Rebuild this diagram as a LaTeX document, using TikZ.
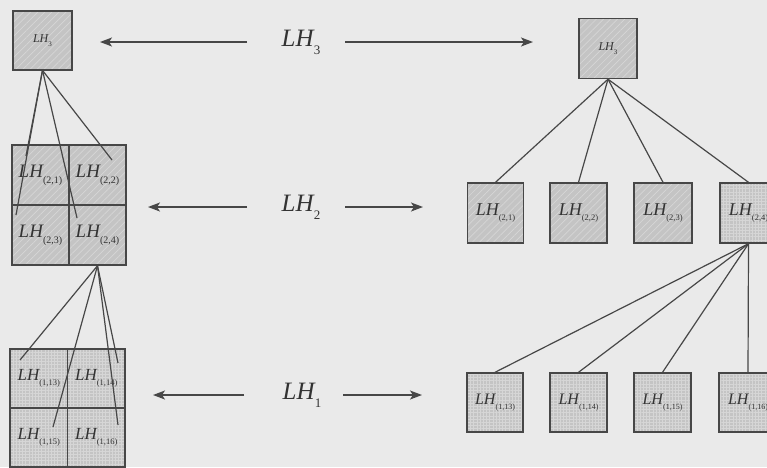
\documentclass[tikz,border=0pt]{standalone}
\usepackage{fontspec}
\setmainfont{Liberation Serif}
\usetikzlibrary{patterns.meta,arrows.meta}
\definecolor{bg}{HTML}{EAEAEA}
\definecolor{boxfill}{HTML}{C4C4C4}
\definecolor{hatch}{HTML}{D6D6D6}
\definecolor{ink}{HTML}{474747}
\definecolor{txt}{HTML}{333333}
\newcommand{\lhlab}[3]{\fontsize{#2}{#2}\selectfont\textit{LH}\kern-0.04em\raisebox{-0.32em}{\fontsize{#3}{#3}\selectfont #1}}
\tikzset{
  cellbase/.style={draw=ink, line width=1.4pt, inner sep=0pt, text=txt, preaction={fill=boxfill}},
  diagbox/.style={cellbase, pattern={Lines[angle=45,distance=5pt,line width=0.7pt]}, pattern color=hatch},
  gridbox/.style={cellbase, pattern={Hatch[angle=0,distance=3.2pt,line width=0.6pt]}, pattern color=hatch},
  conn/.style={draw=ink, line width=1.2pt},
  levarrow/.style={draw=ink, line width=1.5pt, -{Stealth[length=12pt,width=9pt,inset=3pt]}},
  levlabel/.style={text=txt, inner sep=0pt}
}
\begin{document}
\begin{tikzpicture}[x=1pt,y=-1pt]
\useasboundingbox (0,0) rectangle (767,467);
\clip (0,0) rectangle (767,467);
\fill[bg] (0,0) rectangle (767,467);

% ---------- left column ----------
\node[diagbox, minimum width=59pt, minimum height=59pt] (L3) at (42.5,40.5) {\lhlab{3}{12pt}{7pt}};

\node[diagbox, minimum width=57pt, minimum height=60pt] (A21) at (40.5,175) {\lhlab{(2,1)}{19pt}{10pt}};
\node[diagbox, minimum width=57pt, minimum height=60pt] (A22) at (97.5,175) {\lhlab{(2,2)}{19pt}{10pt}};
\node[diagbox, minimum width=57pt, minimum height=60pt] (A23) at (40.5,235) {\lhlab{(2,3)}{19pt}{10pt}};
\node[diagbox, minimum width=57pt, minimum height=60pt] (A24) at (97.5,235) {\lhlab{(2,4)}{19pt}{10pt}};

\node[gridbox, minimum width=57.5pt, minimum height=59pt] (B13) at (38.75,378.5) {\lhlab{(1,13)}{17pt}{8.5pt}};
\node[gridbox, minimum width=57.5pt, minimum height=59pt] (B14) at (96.25,378.5) {\lhlab{(1,14)}{17pt}{8.5pt}};
\node[gridbox, minimum width=57.5pt, minimum height=59pt] (B15) at (38.75,437.5) {\lhlab{(1,15)}{17pt}{8.5pt}};
\node[gridbox, minimum width=57.5pt, minimum height=59pt] (B16) at (96.25,437.5) {\lhlab{(1,16)}{17pt}{8.5pt}};

\coordinate (e1) at (16,215);
\coordinate (e2) at (26,156);
\coordinate (e3) at (77,218);
\coordinate (e4) at (112,160);
\foreach \e in {e1,e2,e3,e4} \draw[conn] (L3.south) -- (\e);

\coordinate (f1) at (20,360);
\coordinate (f2) at (53,427);
\coordinate (f3) at (118,363);
\coordinate (f4) at (118,425);
\foreach \e in {f1,f2,f3,f4} \draw[conn] (A24.south) -- (\e);

% ---------- middle level labels ----------
\node[levlabel] (t3) at (301,42) {\lhlab{3}{25pt}{13pt}};
\node[levlabel] (t2) at (301,207) {\lhlab{2}{25pt}{13pt}};
\node[levlabel] (t1) at (302,395) {\lhlab{1}{25pt}{13pt}};

\coordinate (t3a) at (247,42);  \coordinate (t3b) at (345,42);
\coordinate (t3l) at (100,42);  \coordinate (t3r) at (533,42);
\coordinate (t2a) at (247,207); \coordinate (t2b) at (345,207);
\coordinate (t2l) at (148,207); \coordinate (t2r) at (423,207);
\coordinate (t1a) at (244,395); \coordinate (t1b) at (343,395);
\coordinate (t1l) at (153,395); \coordinate (t1r) at (422,395);
\draw[levarrow] (t3a) -- (t3l);
\draw[levarrow] (t3b) -- (t3r);
\draw[levarrow] (t2a) -- (t2l);
\draw[levarrow] (t2b) -- (t2r);
\draw[levarrow] (t1a) -- (t1l);
\draw[levarrow] (t1b) -- (t1r);

% ---------- right tree ----------
\node[diagbox, minimum width=58pt, minimum height=60pt] (R3) at (608,48.5) {\lhlab{3}{12pt}{7pt}};

\node[diagbox, minimum width=56pt, minimum height=60pt] (R21) at (495.5,213) {\lhlab{(2,1)}{18pt}{8.5pt}};
\node[diagbox, minimum width=57pt, minimum height=60pt] (R22) at (578.5,213) {\lhlab{(2,2)}{18pt}{8.5pt}};
\node[diagbox, minimum width=58pt, minimum height=60pt] (R23) at (663,213) {\lhlab{(2,3)}{18pt}{8.5pt}};
\node[gridbox, minimum width=57pt, minimum height=60pt] (R24) at (748.5,213) {\lhlab{(2,4)}{18pt}{8.5pt}};

\node[gridbox, minimum width=56pt, minimum height=59pt] (R13) at (495,402.5) {\lhlab{(1,13)}{16pt}{8pt}};
\node[gridbox, minimum width=57pt, minimum height=59pt] (R14) at (578.5,402.5) {\lhlab{(1,14)}{16pt}{8pt}};
\node[gridbox, minimum width=57pt, minimum height=59pt] (R15) at (662.5,402.5) {\lhlab{(1,15)}{16pt}{8pt}};
\node[gridbox, minimum width=58pt, minimum height=59pt] (R16) at (748,402.5) {\lhlab{(1,16)}{16pt}{8pt}};

\foreach \n in {R21,R22,R23,R24} \draw[conn] (R3.south) -- (\n.north);
\foreach \n in {R13,R14,R15,R16} \draw[conn] (R24.south) -- (\n.north);
\end{tikzpicture}
\end{document}
